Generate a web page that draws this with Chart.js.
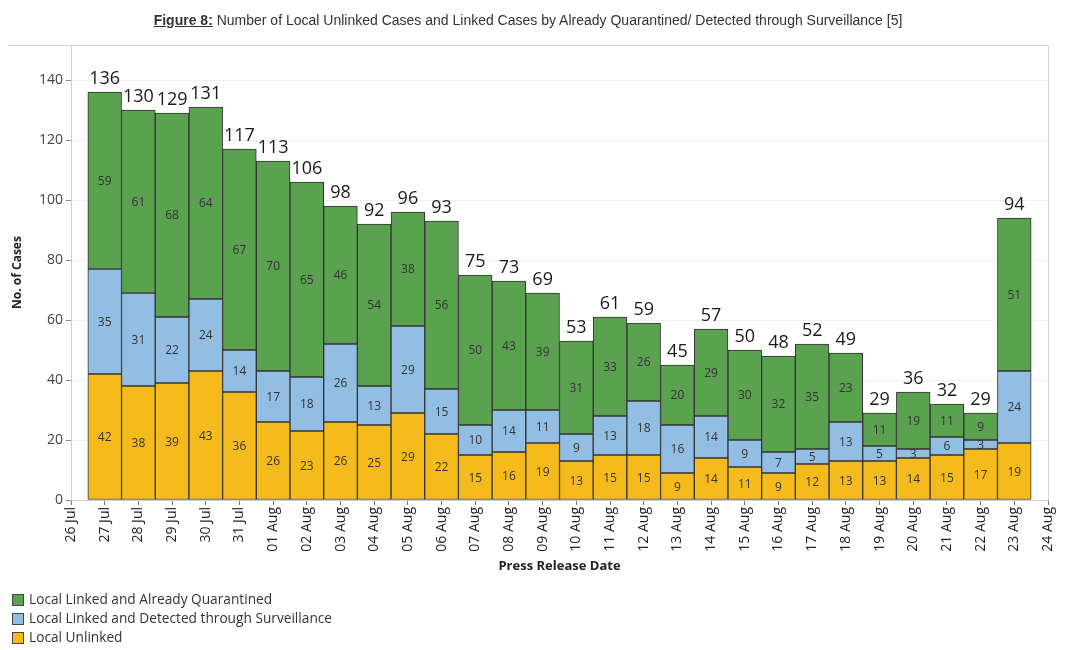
<!DOCTYPE html>
<html>
<head>
<meta charset="utf-8">
<script src="https://cdn.jsdelivr.net/npm/chart.js@4"></script>
<style>
  body { margin: 0; background: #fff; }
  #wrap { position: relative; width: 1080px; height: 650px; }
  #title { position: absolute; top: 12px; left: 0; width: 1056px; text-align: center;
           font: 14px "Liberation Sans", Arial, sans-serif; color: #333; }
  #title b { text-decoration: underline; }
  canvas { position: absolute; left: 0; top: 0; }
</style>
</head>
<body>
<div id="wrap">
  <canvas id="myChart" width="1080" height="650"></canvas>
  <div id="title"><b>Figure 8:</b> Number of Local Unlinked Cases and Linked Cases by Already Quarantined/ Detected through Surveillance [5]</div>
</div>
<script>
const dates = ['27 Jul', '28 Jul', '29 Jul', '30 Jul', '31 Jul', '01 Aug', '02 Aug', '03 Aug', '04 Aug', '05 Aug',
  '06 Aug', '07 Aug', '08 Aug', '09 Aug', '10 Aug', '11 Aug', '12 Aug', '13 Aug', '14 Aug', '15 Aug',
  '16 Aug', '17 Aug', '18 Aug', '19 Aug', '20 Aug', '21 Aug', '22 Aug', '23 Aug'];
// axis runs one day either side of the bars
const axisLabels = ['26 Jul'].concat(dates, ['24 Aug']);

const unlinked = [42, 38, 39, 43, 36, 26, 23, 26, 25, 29, 22, 15, 16, 19, 13, 15, 15, 9, 14, 11, 9, 12, 13, 13, 14, 15, 17, 19];
const surveillance = [35, 31, 22, 24, 14, 17, 18, 26, 13, 29, 15, 10, 14, 11, 9, 13, 18, 16, 14, 9, 7, 5, 13, 5, 3, 6, 3, 24];
const quarantined = [59, 61, 68, 64, 67, 70, 65, 46, 54, 38, 56, 50, 43, 39, 31, 33, 26, 20, 29, 30, 32, 35, 23, 11, 19, 11, 9, 51];
const yTicks = [0, 20, 40, 60, 80, 100, 120, 140];

const pad = arr => [null].concat(arr, [null]);

const segLabels = {
  id: 'segLabels',
  afterDatasetsDraw(chart) {
    const ctx = chart.ctx;
    ctx.save();
    ctx.textAlign = 'center';
    ctx.textBaseline = 'middle';
    ctx.font = '12px "Open Sans"';
    ctx.fillStyle = '#333';
    chart.data.datasets.forEach((ds, di) => {
      chart.getDatasetMeta(di).data.forEach((bar, i) => {
        if (ds.data[i] == null) return;
        ctx.fillText(ds.data[i], bar.x, (bar.y + bar.base) / 2 + 1);
      });
    });
    // totals on top
    const last = chart.data.datasets.length - 1;
    ctx.font = '18px "Open Sans"';
    ctx.fillStyle = '#1a1a1a';
    ctx.textBaseline = 'bottom';
    chart.getDatasetMeta(last).data.forEach((bar, i) => {
      if (chart.data.datasets[last].data[i] == null) return;
      let total = 0;
      chart.data.datasets.forEach(ds => total += ds.data[i]);
      ctx.fillText(total, bar.x, bar.y - 4);
    });
    ctx.restore();
  }
};

const frame = {
  id: 'frame',
  afterDraw(chart) {
    const ctx = chart.ctx, a = chart.chartArea;
    ctx.save();
    ctx.strokeStyle = '#d6d6d6';
    ctx.lineWidth = 1;
    ctx.beginPath();
    ctx.moveTo(8, a.top + 0.5);
    ctx.lineTo(a.right + 0.5, a.top + 0.5);
    ctx.lineTo(a.right + 0.5, a.bottom);
    ctx.stroke();

    // legend, top row is the top of the stack
    const items = chart.data.datasets.slice().reverse();
    ctx.font = '13.7px "Open Sans"';
    ctx.textBaseline = 'middle';
    items.forEach((ds, k) => {
      const y = 600 + k * 19;
      ctx.fillStyle = ds.backgroundColor;
      ctx.fillRect(12, y - 6, 12, 12);
      ctx.strokeStyle = '#444';
      ctx.strokeRect(12.5, y - 5.5, 11, 11);
      ctx.fillStyle = '#333';
      ctx.fillText(ds.label, 29, y);
    });
    ctx.restore();
  }
};

new Chart(document.getElementById('myChart'), {
  type: 'bar',
  data: {
    labels: axisLabels,
    datasets: [
      { label: 'Local Unlinked', data: pad(unlinked), backgroundColor: '#f5bb1d' },
      { label: 'Local Linked and Detected through Surveillance', data: pad(surveillance), backgroundColor: '#93bee3' },
      { label: 'Local Linked and Already Quarantined', data: pad(quarantined), backgroundColor: '#5aa150' }
    ]
  },
  options: {
    responsive: false,
    animation: false,
    layout: { padding: { left: 4, right: 32, top: 45, bottom: 72 } },
    datasets: {
      bar: { borderColor: '#333', borderWidth: 1, borderSkipped: false, barPercentage: 1, categoryPercentage: 1 }
    },
    plugins: { legend: { display: false }, tooltip: { enabled: false } },
    scales: {
      x: {
        stacked: true,
        offset: false,
        grid: { offset: false, drawOnChartArea: false, tickColor: '#777', tickLength: 5 },
        border: { color: '#cfcfcf' },
        ticks: { autoSkip: false, minRotation: 90, maxRotation: 90, padding: 2,
                 color: '#222', font: { size: 14, family: 'Open Sans' } },
        title: { display: true, text: 'Press Release Date', color: '#222',
                 font: { size: 13, weight: 'bold', family: 'Open Sans' }, padding: { top: 0, bottom: 4 } },
        afterFit(axis) { axis.height = 78; }
      },
      y: {
        stacked: true,
        min: 0,
        max: 151.7,
        afterBuildTicks(axis) { axis.ticks = yTicks.map(v => ({ value: v })); },
        grid: { color: '#f0f0f0', tickColor: '#888', tickLength: 5 },
        border: { color: '#cfcfcf' },
        ticks: { includeBounds: false, padding: 3, color: '#444', font: { size: 14, family: 'Open Sans' } },
        title: { display: true, text: 'No. of Cases', color: '#222',
                 font: { size: 12, weight: 'bold', family: 'Open Sans' }, padding: { top: 6, bottom: 0 } },
        afterFit(axis) { axis.width = 67; }
      }
    }
  },
  plugins: [segLabels, frame]
});
</script>
</body>
</html>
